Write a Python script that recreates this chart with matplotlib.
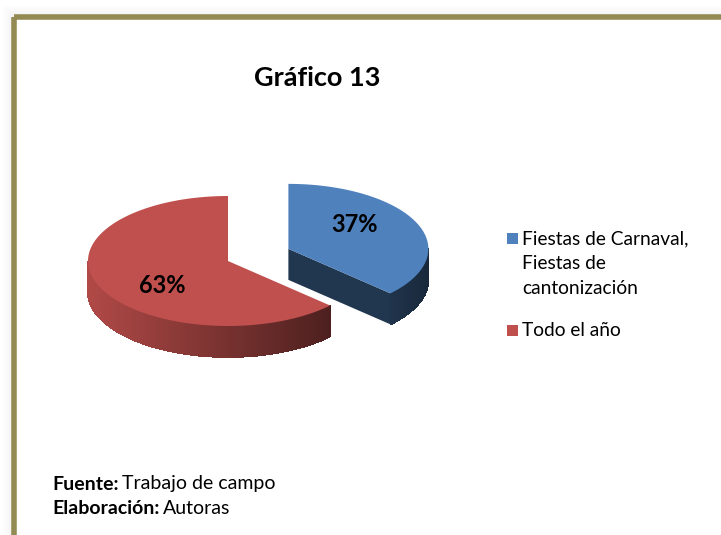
import numpy as np
import matplotlib
matplotlib.use("Agg")
import matplotlib.pyplot as plt
from matplotlib.patches import Polygon, Rectangle

# datos del grafico
categorias = ["Fiestas de Carnaval,\nFiestas de\ncantonización", "Todo el año"]
valores = [37, 63]
etiquetas = ["37%", "63%"]
colores = ["#4F81BD", "#C0504D"]
explotar = [0.47, 0.0]
titulo = "Gráfico 13"

W, H = 721, 535
fig = plt.figure(figsize=(W / 100, H / 100), dpi=100)
ax = fig.add_axes([0, 0, 1, 1])
ax.set_xlim(0, W)
ax.set_ylim(H, 0)
ax.axis("off")

# sombra y marco
for k in range(12):
    ax.add_patch(Rectangle((13.5 - k, 16.5 - k), 760, 560, fill=False,
                           ec=(0.5, 0.5, 0.5), lw=1.0, alpha=0.075 * (12 - k) / 12, zorder=1))
ax.add_patch(Rectangle((13.8, 16.8), 760, 560, fill=False, ec="#948A54", lw=4.0, zorder=2))

# pastel 3d
cx, cy = 228, 261
a, b, prof = 140, 65, 31
fuente = "Lato"


def punto(t, ox, oy, dz=0):
    return cx + ox + a * np.cos(np.radians(t)), cy + oy - b * np.sin(np.radians(t)) + dz


def sombra(col, f):
    c = np.array(matplotlib.colors.to_rgb(col))
    return tuple(np.clip(c * f, 0, 1))


total = sum(valores)
inicio = 90.0
rebanadas = []
for v, col, ex in zip(valores, colores, explotar):
    t1 = inicio
    t2 = inicio - v / total * 360
    inicio = t2
    mid = (t1 + t2) / 2
    ox = ex * a * np.cos(np.radians(mid))
    oy = -ex * b * np.sin(np.radians(mid))
    rebanadas.append((t1, t2, mid, ox, oy, col))

for t1, t2, mid, ox, oy, col in rebanadas:
    # cara de corte visible (lado t2)
    if np.sin(np.radians(t2 - 90)) < 0 and np.cos(np.radians(t2)) > 0:
        p = punto(t2, ox, oy)
        c0 = (cx + ox, cy + oy)
        poly = [c0, p, (p[0], p[1] + prof), (c0[0], c0[1] + prof)]
        ax.add_patch(Polygon(poly, closed=True, fc=sombra(col, 0.42), ec="none", zorder=3))
    # pared exterior frontal
    ts = np.linspace(t2, t1, 240)
    for i in range(len(ts) - 1):
        ta, tb = ts[i], ts[i + 1]
        tm = (ta + tb) / 2
        if np.sin(np.radians(tm)) >= 0:
            continue
        pa = punto(ta, ox, oy)
        pb = punto(tb, ox, oy)
        f = 0.62 - 0.3 * np.cos(np.radians(tm))
        poly = [pa, pb, (pb[0], pb[1] + prof), (pa[0], pa[1] + prof)]
        ax.add_patch(Polygon(poly, closed=True, fc=sombra(col, f), ec=sombra(col, f),
                             lw=0.6, antialiased=False, zorder=4))
    # cara superior
    ts = np.linspace(t2, t1, 200)
    pts = [(cx + ox, cy + oy)] + [punto(t, ox, oy) for t in ts]
    ax.add_patch(Polygon(pts, closed=True, fc=col, ec="none", zorder=5))

for (t1, t2, mid, ox, oy, col), et in zip(rebanadas, etiquetas):
    ang = np.radians(mid + 15)
    x = cx + ox + 0.6 * a * np.cos(ang)
    y = cy + oy - 0.6 * b * np.sin(ang)
    ax.text(x, y, et, ha="center", va="center", fontsize=17, fontweight="bold",
            family=fuente, color="black", zorder=6)

ax.text(317, 78, titulo, ha="center", va="center", fontsize=19.5, fontweight="bold",
        family=fuente, color="black")

# leyenda
ley_y = [244, 336]
paso = 25
for cat, col, y in zip(categorias, colores, ley_y):
    ax.add_patch(Rectangle((506.5, y - 11.5), 11, 11, fc=col, ec="none"))
    for j, linea in enumerate(cat.split("\n")):
        ax.text(522, y + j * paso, linea, ha="left", va="baseline", fontsize=13.8,
                family=fuente, color="black")

# pie de grafico
fig.canvas.draw()
rend = fig.canvas.get_renderer()
inv = ax.transData.inverted()
for yy, neg, norm in [(484, "Fuente:", "Trabajo de campo"), (509, "Elaboración:", "Autoras")]:
    t = ax.text(52, yy, neg, ha="left", va="center", fontsize=14, fontweight="bold", family=fuente)
    bb = t.get_window_extent(renderer=rend)
    x1 = inv.transform((bb.x1, bb.y0))[0]
    ax.text(x1 + 4, yy, norm, ha="left", va="center", fontsize=14, family=fuente)

fig.savefig("out.png", dpi=100)
